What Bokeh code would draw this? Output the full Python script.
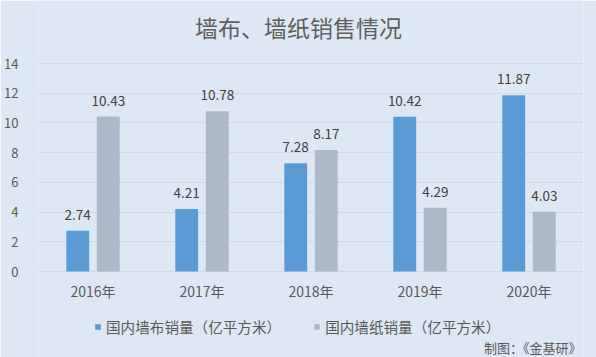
from bokeh.plotting import figure
from bokeh.models import ColumnDataSource, FactorRange, Legend, LegendItem, Label, FixedTicker
from bokeh.transform import dodge
from bokeh.core.properties import value
from bokeh.embed import file_html
from bokeh.resources import INLINE

years = ["2016年", "2017年", "2018年", "2019年", "2020年"]
wallcloth = [2.74, 4.21, 7.28, 10.42, 11.87]
wallpaper = [10.43, 10.78, 8.17, 4.29, 4.03]
y_ticks = [0, 2, 4, 6, 8, 10, 12, 14]
series_names = ["国内墙布销量（亿平方米）", "国内墙纸销量（亿平方米）"]
title_text = "墙布、墙纸销售情况"
source_text = "制图：《金基研》"

FONT = "Noto Sans CJK SC"
BG = "#dee8f4"
BLUE = "#5b9bd5"
GRAY = "#adb9ca"
TXT = "#595959"

# frame spans the full canvas height; value 0 sits at 271px, 14 at 63px
Y_TOP = 14
PX_PER_UNIT = 208 / 14
Y_MIN = -86 / PX_PER_UNIT
Y_MAX = Y_TOP + 63 / PX_PER_UNIT

src = ColumnDataSource(dict(
    year=years, a=wallcloth, b=wallpaper, zero=[0] * len(years),
    at=[f"{v:.2f}" for v in wallcloth], bt=[f"{v:.2f}" for v in wallpaper],
))

p = figure(width=596, height=357, x_range=FactorRange(*years, range_padding=0),
           y_range=(Y_MIN, Y_MAX), output_backend="svg", toolbar_location=None,
           min_border_left=38, min_border_right=13, min_border_top=0, min_border_bottom=0)
p.background_fill_color = BG
p.border_fill_color = BG
p.outline_line_color = None

r1 = p.vbar(x=dodge("year", -0.14, range=p.x_range), top="a", width=0.21, source=src,
            fill_color=BLUE, line_color=None)
r2 = p.vbar(x=dodge("year", 0.14, range=p.x_range), top="b", width=0.21, source=src,
            fill_color=GRAY, line_color=None)

for col, lab, off in (("a", "at", -0.14), ("b", "bt", 0.14)):
    p.text(x=dodge("year", off, range=p.x_range), y=col, text=lab, source=src,
           text_align="center", text_baseline="bottom", y_offset=-11,
           text_font=value(FONT), text_font_size="13.5px", text_color="#404040")

# category labels under the zero line
p.text(x="year", y="zero", text="year", source=src, text_align="center",
       text_baseline="middle", y_offset=19, text_font=value(FONT),
       text_font_size="14px", text_color=TXT)

p.xaxis.visible = False
p.xgrid.grid_line_color = None
p.ygrid.grid_line_color = "#d4d9df"
p.ygrid.grid_line_width = 1
p.yaxis.ticker = FixedTicker(ticks=y_ticks)
p.ygrid.ticker = FixedTicker(ticks=y_ticks)
p.yaxis.axis_line_color = None
p.yaxis.major_tick_line_color = None
p.yaxis.minor_tick_line_color = None
p.yaxis.major_label_standoff = 14
p.yaxis.major_label_text_font = FONT
p.yaxis.major_label_text_color = TXT
p.yaxis.major_label_text_font_size = "13px"

legend = Legend(items=[LegendItem(label=series_names[0], renderers=[r1]),
                       LegendItem(label=series_names[1], renderers=[r2])],
                orientation="horizontal", location=(56, 20),
                glyph_width=7, glyph_height=7, label_standoff=5, spacing=32,
                padding=0, margin=0, border_line_color=None, background_fill_alpha=0,
                label_text_font=FONT, label_text_font_size="14.6px", label_text_color=TXT)
p.add_layout(legend, "center")

p.add_layout(Label(x=260, y=331, x_units="screen", y_units="screen", text=title_text,
                   text_align="center", text_baseline="middle", text_font=FONT,
                   text_font_size="23px", text_color="#5f5f5f"))
p.add_layout(Label(x=543, y=10, x_units="screen", y_units="screen", text=source_text,
                   text_align="right", text_baseline="middle", text_font=FONT,
                   text_font_size="13px", text_color=TXT))

open("out.html", "w").write(file_html(p, INLINE))
